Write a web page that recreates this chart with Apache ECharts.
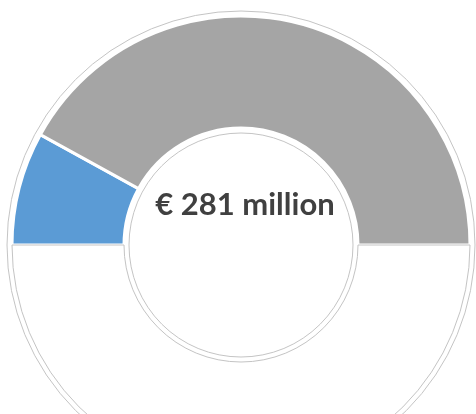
<!DOCTYPE html>
<html>
<head>
<meta charset="utf-8">
<script src="https://cdn.jsdelivr.net/npm/echarts@6/dist/echarts.min.js"></script>
<style>html,body{margin:0;padding:0;background:#fff}#c{width:476px;height:414px}</style>
</head>
<body>
<div id="c"></div>
<script>
// Data
var categories = ['Share', 'Rest', 'Hidden'];
var values = [16, 84, 100];
var colors = ['#5B9BD5', '#A5A5A5', '#FFFFFF'];
var centerLabel = '€ 281 million';

var chart = echarts.init(document.getElementById('c'), null, {renderer: 'canvas'});
var data = categories.map(function (c, i) {
  var it = {name: c, value: values[i], itemStyle: {color: colors[i], borderColor: '#FFFFFF', borderWidth: 3}};
  if (i === 2) { it.itemStyle = {color: '#FFFFFF', borderColor: '#C4C4C4', borderWidth: 1}; }
  return it;
});
chart.setOption({
  animation: false,
  series: [
    {
      type: 'pie', silent: true, center: [241, 245], radius: [112, 234],
      label: {show: false}, labelLine: {show: false},
      itemStyle: {color: '#FFFFFF', borderColor: '#C4C4C4', borderWidth: 1},
      data: [{value: 1, name: 'frame'}]
    },
    {
      type: 'pie', silent: true, center: [241, 245], radius: [117, 229],
      startAngle: 180, clockwise: true,
      label: {show: false}, labelLine: {show: false},
      data: data
    }
  ],
  graphic: [{
    type: 'text', x: 245, y: 205,
    style: {text: centerLabel, font: 'bold 31px Lato, "Open Sans", sans-serif', fill: '#404040',
            align: 'center', verticalAlign: 'middle'}
  }]
});
</script>
</body>
</html>
